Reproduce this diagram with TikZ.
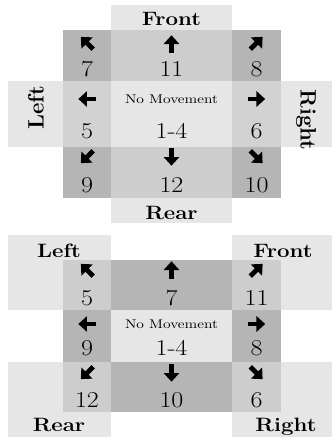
\documentclass[tikz,border=0pt]{standalone}
\usetikzlibrary{arrows.meta}

\definecolor{boxlight}{RGB}{230,230,230}
\definecolor{boxmid}{RGB}{205,205,205}
\definecolor{boxside}{RGB}{210,210,210}
\definecolor{boxdark}{RGB}{181,181,181}

\tikzset{
  side/.style={font=\bfseries\fontsize{14.5}{16}\selectfont, xscale=1.15, inner sep=0pt, anchor=base},
  num/.style={font=\fontsize{17}{19}\selectfont, xscale=1.15, inner sep=0pt, anchor=base},
  still/.style={font=\fontsize{9.5}{11}\selectfont, xscale=1.2, inner sep=0pt},
  mvarr/.style={line width=3.6pt, -{Triangle[length=6.5pt,width=11.5pt]}},
}

% arrow glyph: x, y, direction
\newcommand{\mvarrow}[3]{\draw[mvarr] (#1,#2) ++(#3+180:6.5pt) -- ++(#3:13pt);}

\begin{document}
\begin{tikzpicture}[x=0.75pt,y=-0.75pt]
    \useasboundingbox (0,0) rectangle (332,437);

    % column edges
    \def\xa{63}  \def\xb{111} \def\xc{232} \def\xd{281}
    % column centres
    \def\cl{87}  \def\cm{171.5} \def\cr{256.5}

    % ---------- upper diagram ----------
    % label boxes
    \fill[boxlight] (\xb,5) rectangle (\xc,30);
    \fill[boxlight] (\xb,198) rectangle (\xc,223);
    \fill[boxlight] (8,81) rectangle (\xa,147);
    \fill[boxlight] (\xd,81) rectangle (332,147);

    % grid
    \fill[boxdark] (\xa,30) rectangle (\xb,81);
    \fill[boxmid]  (\xb,30) rectangle (\xc,81);
    \fill[boxdark] (\xc,30) rectangle (\xd,81);
    \fill[boxside] (\xa,81) rectangle (\xb,147);
    \fill[boxlight](\xb,81) rectangle (\xc,147);
    \fill[boxside] (\xc,81) rectangle (\xd,147);
    \fill[boxdark] (\xa,147) rectangle (\xb,198);
    \fill[boxmid]  (\xb,147) rectangle (\xc,198);
    \fill[boxdark] (\xc,147) rectangle (\xd,198);

    % labels
    \node[side] (upfront) at (\cm,25) {Front};
    \node[side] (uprear) at (\cm,219) {Rear};
    \node[side, anchor=center, rotate=90, xscale=1.15] (upleft) at (36,108) {Left};
    \node[side, anchor=center, rotate=-90, xscale=1.15] (upright) at (306,120) {Right};

    % arrows
    \mvarrow{\cl}{43}{135}
    \mvarrow{\cm}{44}{90}
    \mvarrow{\cr}{43}{45}
    \mvarrow{\cl}{99}{180}
    \mvarrow{\cr}{99}{0}
    \mvarrow{\cl}{157}{225}
    \mvarrow{\cm}{157}{270}
    \mvarrow{\cr}{157}{315}

    % numbers
    \node[num] (up7) at (\cl,76) {7};
    \node[num] (up11) at (\cm,76) {11};
    \node[num] (up8) at (\cr,76) {8};
    \node[still] (upstill) at (\cm,99) {No Movement};
    \node[num] (up5) at (\cl,138) {5};
    \node[num] (up14) at (\cm,138) {1-4};
    \node[num] (up6) at (\cr,138) {6};
    \node[num] (up9) at (\cl,192) {9};
    \node[num] (up12) at (\cm,192) {12};
    \node[num] (up10) at (\cr,192) {10};

    % ---------- lower diagram ----------
    % label boxes
    \fill[boxlight] (8,235) rectangle (\xb,310);
    \fill[boxlight] (\xc,235) rectangle (332,310);
    \fill[boxlight] (8,362) rectangle (\xb,437);
    \fill[boxlight] (\xc,362) rectangle (332,437);

    % grid
    \fill[boxmid]  (\xa,260) rectangle (\xb,310);
    \fill[boxdark] (\xb,260) rectangle (\xc,310);
    \fill[boxmid]  (\xc,260) rectangle (\xd,310);
    \fill[boxdark] (\xa,310) rectangle (\xb,362);
    \fill[boxlight](\xb,310) rectangle (\xc,362);
    \fill[boxdark] (\xc,310) rectangle (\xd,362);
    \fill[boxmid]  (\xa,362) rectangle (\xb,412);
    \fill[boxdark] (\xb,362) rectangle (\xc,412);
    \fill[boxmid]  (\xc,362) rectangle (\xd,412);

    % labels
    \node[side] (loleft) at (59,257) {Left};
    \node[side] (lofront) at (283,257) {Front};
    \node[side] (lorear) at (59,431) {Rear};
    \node[side] (loright) at (286,431) {Right};

    % arrows
    \mvarrow{\cl}{270}{135}
    \mvarrow{\cm}{270}{90}
    \mvarrow{\cr}{270}{45}
    \mvarrow{\cl}{324}{180}
    \mvarrow{\cr}{324}{0}
    \mvarrow{\cl}{373}{225}
    \mvarrow{\cm}{373}{270}
    \mvarrow{\cr}{373}{315}

    % numbers
    \node[num] (lo5) at (\cl,305) {5};
    \node[num] (lo7) at (\cm,305) {7};
    \node[num] (lo11) at (\cr,305) {11};
    \node[still] (lostill) at (\cm,324) {No Movement};
    \node[num] (lo9) at (\cl,355) {9};
    \node[num] (lo14) at (\cm,355) {1-4};
    \node[num] (lo8) at (\cr,355) {8};
    \node[num] (lo12) at (\cl,407) {12};
    \node[num] (lo10) at (\cm,407) {10};
    \node[num] (lo6) at (\cr,407) {6};

\end{tikzpicture}
\end{document}
